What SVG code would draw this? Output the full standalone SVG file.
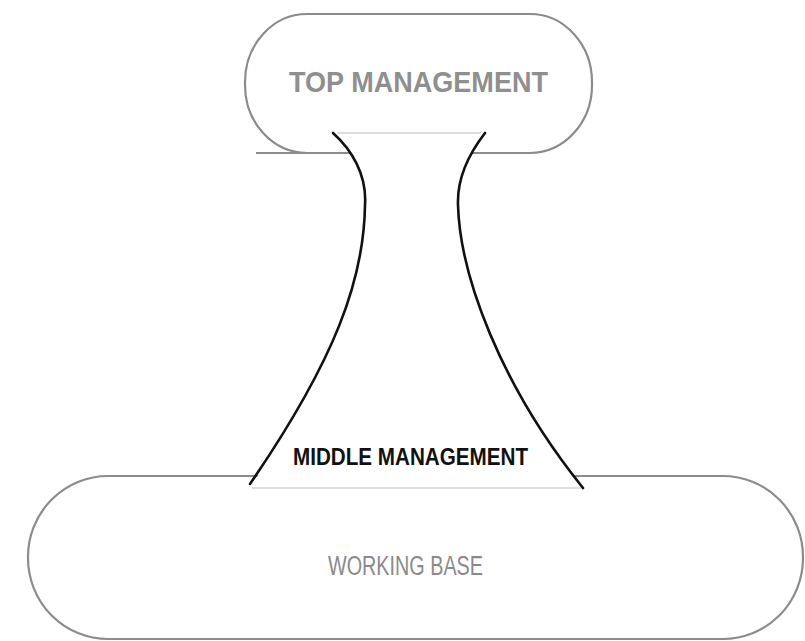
<svg xmlns="http://www.w3.org/2000/svg" width="805" height="641" viewBox="0 0 805 641">
  <style>
    .box { fill: #ffffff; stroke: #8c8c8c; stroke-width: 2.2; }
    .stray { stroke: #8c8c8c; stroke-width: 2; fill: none; }
    .neckfill { fill: #ffffff; stroke: none; }
    .neckedge { fill: none; stroke: #111111; stroke-width: 2.6; stroke-linecap: round; }
    .necktop { fill: none; stroke: #bdbdbd; stroke-width: 1.2; }
    .lbl { font-family: "Liberation Sans", Arial, sans-serif; }
  </style>
  <rect width="805" height="641" fill="#ffffff"/>
  <g id="top-management">
    <rect class="box" x="245" y="14" width="347" height="139" rx="62" ry="68"/>
    <line class="stray" x1="256" y1="153" x2="305" y2="153"/>
  </g>
  <g id="working-base">
    <rect class="box" x="28" y="476" width="775" height="163" rx="80" ry="81"/>
  </g>
  <g id="middle-management">
    <path class="neckfill" d="M333,133 L485,133 C468,155 457,180 458,205 C460,275 500,385 583,488 L250,488 C335,360 364,280 365,205 C367,175 352,150 333,133 Z"/>
    <line class="necktop" x1="337" y1="133" x2="481" y2="133"/>
    <line class="necktop" x1="252" y1="488" x2="581" y2="488"/>
  </g>
  <g id="connectors">
    <path class="neckedge" d="M333,133 C352,150 367,175 365,205 C364,280 335,360 250,484"/>
    <path class="neckedge" d="M485,133 C468,155 457,180 458,205 C460,275 500,385 583,488"/>
  </g>
  <text class="lbl" x="289" y="92" font-size="30" font-weight="bold" fill="#8f8f8f" textLength="259" lengthAdjust="spacingAndGlyphs">TOP MANAGEMENT</text>
  <text class="lbl" x="293" y="465" font-size="23" font-weight="bold" fill="#111111" textLength="235" lengthAdjust="spacingAndGlyphs">MIDDLE MANAGEMENT</text>
  <text class="lbl" x="328" y="575" font-size="27" fill="#8a8a8a" textLength="155" lengthAdjust="spacingAndGlyphs">WORKING BASE</text>
</svg>
